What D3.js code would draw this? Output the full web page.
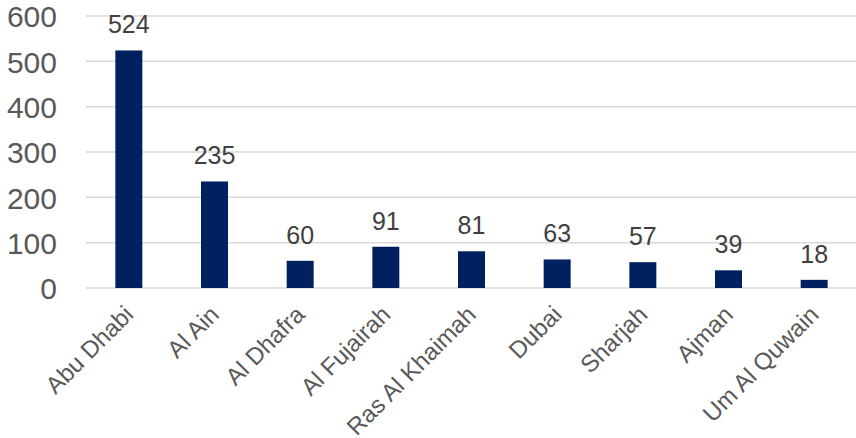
<!DOCTYPE html>
<html>
<head>
<meta charset="utf-8">
<script src="https://cdn.jsdelivr.net/npm/d3@7"></script>
<style>
  html, body { margin: 0; padding: 0; background: #fff; }
  svg { display: block; font-family: "Liberation Sans", Arial, sans-serif; }
</style>
</head>
<body>
<svg id="chart" width="856" height="438"></svg>
<script>
const categories = ["Abu Dhabi", "Al Ain", "Al Dhafra", "Al Fujairah", "Ras Al Khaimah", "Dubai", "Sharjah", "Ajman", "Um Al Quwain"];
const values = [524, 235, 60, 91, 81, 63, 57, 39, 18];
const yTicks = [0, 100, 200, 300, 400, 500, 600];

const svg = d3.select("#chart");
const plot = { left: 86, right: 857, top: 16, bottom: 288 };

const x = d3.scaleBand()
  .domain(categories)
  .range([plot.left, plot.right])
  .paddingInner(0.685)
  .paddingOuter(0.3425);

const y = d3.scaleLinear()
  .domain([0, 600])
  .range([plot.bottom, plot.top]);

// horizontal gridlines
svg.append("g")
  .selectAll("line")
  .data(yTicks)
  .join("line")
  .attr("x1", plot.left)
  .attr("x2", plot.right)
  .attr("y1", d => y(d))
  .attr("y2", d => y(d))
  .attr("stroke", "#d9d9d9")
  .attr("stroke-width", 1.5);

// y axis labels
const yAxis = d3.axisLeft(y).tickValues(yTicks).tickSize(0).tickPadding(0);
const yg = svg.append("g")
  .attr("transform", `translate(${57},0)`)
  .call(yAxis);
yg.select(".domain").remove();
yg.selectAll("text")
  .attr("font-family", "'Liberation Sans', Arial, sans-serif")
  .attr("font-size", 30)
  .attr("fill", "#595959")
  .attr("dy", "0.36em");

// bars
svg.append("g")
  .selectAll("rect")
  .data(values)
  .join("rect")
  .attr("x", (d, i) => x(categories[i]))
  .attr("width", x.bandwidth())
  .attr("y", d => y(d))
  .attr("height", d => y(0) - y(d))
  .attr("fill", "#002060");

// value labels
svg.append("g")
  .selectAll("text")
  .data(values)
  .join("text")
  .attr("x", (d, i) => x(categories[i]) + x.bandwidth() / 2)
  .attr("y", d => y(d) - 17)
  .attr("text-anchor", "middle")
  .attr("font-size", 25)
  .attr("fill", "#404040")
  .text(d => d);

// category labels, rotated
const xAxis = d3.axisBottom(x).tickSize(0).tickPadding(0);
const xg = svg.append("g")
  .attr("transform", `translate(0,${plot.bottom})`)
  .call(xAxis);
xg.select(".domain").remove();
xg.selectAll("text")
  .attr("font-family", "'Liberation Sans', Arial, sans-serif")
  .attr("font-size", 24)
  .attr("fill", "#595959")
  .attr("text-anchor", "end")
  .attr("y", 0)
  .attr("dy", 0)
  .attr("transform", "translate(6,28) rotate(-45)");
</script>
</body>
</html>
